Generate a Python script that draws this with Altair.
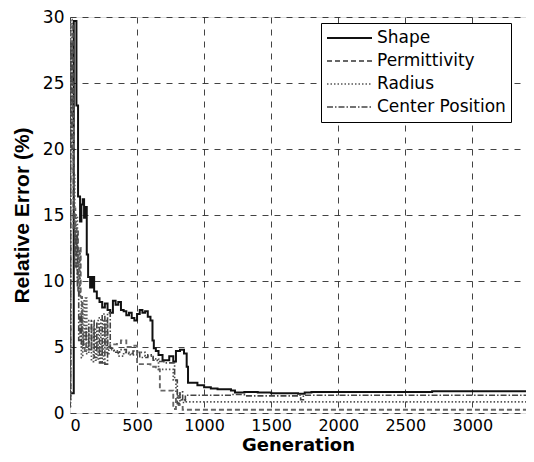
import altair as alt
import pandas as pd

series_names = ["Shape", "Permittivity", "Radius", "Center Position"]

shape_gen = [0, 28, 48, 60, 75, 85, 95, 105, 115, 125, 135, 150, 165, 180, 200, 220, 240, 260, 280, 300, 320,
             340, 360, 380, 400, 420, 440, 460, 480, 500, 520, 540, 560, 580, 600, 615, 625, 640, 660, 690, 740,
             770, 790, 820, 850, 870, 880, 950, 1000, 1050, 1100, 1200, 1230, 1300, 1400, 1500, 1700, 1750, 1800,
             2700, 3400]
shape_val = [1.5, 29.7, 23.3, 16.4, 14.5, 15.8, 16.2, 14.8, 15.6, 12.0, 10.3, 9.5, 10.3, 9.2, 8.7, 8.4, 8.0, 8.3,
             7.8, 7.6, 8.5, 8.2, 8.4, 7.8, 7.7, 7.4, 7.6, 7.2, 7.0, 7.5, 7.8, 7.6, 7.7, 7.3, 7.0, 5.5, 4.9, 4.7,
             4.4, 4.0, 4.3, 3.9, 4.7, 4.8, 4.5, 3.5, 2.3, 2.1, 1.95, 1.85, 1.8, 1.7, 1.55, 1.6, 1.55, 1.5, 1.45,
             1.55, 1.6, 1.65, 1.65]

perm_gen = [0, 3, 20, 30, 40, 50, 60, 70, 80, 90, 100, 110, 120, 140, 160, 180, 200, 220, 240, 260, 280, 300,
            350, 380, 420, 480, 500, 560, 600, 640, 670, 770, 790, 810, 840, 3400]
perm_val = [1.3, 29.5, 22.0, 15.5, 12.0, 14.0, 9.0, 12.5, 8.8, 6.0, 5.2, 4.7, 6.0, 5.0, 6.5, 5.5, 5.0, 4.4, 5.2,
            6.8, 5.0, 5.2, 5.3, 5.5, 5.0, 5.1, 3.7, 3.7, 3.5, 3.3, 1.7, 0.3, 1.3, 0.6, 0.25, 0.25]

rad_gen = [0, 4, 15, 25, 35, 45, 55, 65, 75, 85, 95, 105, 115, 125, 140, 160, 175, 190, 210, 230, 250, 270, 290,
           320, 360, 400, 450, 500, 560, 620, 660, 770, 790, 820, 860, 3400]
rad_val = [0.5, 29.8, 25.0, 18.0, 13.0, 15.0, 10.0, 12.5, 8.8, 4.2, 8.5, 5.5, 8.7, 4.5, 7.0, 3.9, 6.5, 4.0, 7.2,
           3.8, 7.0, 4.5, 4.8, 4.7, 4.3, 4.6, 4.4, 4.6, 4.3, 4.1, 3.3, 2.5, 1.5, 1.0, 0.85, 0.85]

cen_gen = [0, 5, 15, 25, 35, 45, 55, 65, 75, 85, 100, 120, 140, 160, 180, 200, 220, 240, 260, 280, 300, 330, 370,
           420, 470, 520, 580, 620, 650, 700, 780, 800, 820, 840, 860, 1200, 1300, 1700, 1720, 1740, 3400]
cen_val = [1.0, 28.0, 20.0, 14.0, 11.0, 13.5, 9.5, 5.5, 7.5, 5.0, 5.5, 6.5, 4.8, 7.0, 4.2, 6.8, 3.8, 7.5, 3.7,
           7.6, 4.9, 4.6, 4.8, 4.5, 4.7, 4.2, 4.4, 4.0, 3.9, 3.8, 2.5, 0.7, 1.6, 0.8, 1.35, 1.4, 1.3, 1.35, 1.0,
           1.35, 1.35]

rows = []
for name, gens, vals in [("Shape", shape_gen, shape_val), ("Permittivity", perm_gen, perm_val),
                         ("Radius", rad_gen, rad_val), ("Center Position", cen_gen, cen_val)]:
    for i, (g, v) in enumerate(zip(gens, vals)):
        rows.append({"series": name, "gen": g, "err": v, "order": i})
df = pd.DataFrame(rows)

font = "DejaVu Sans"
yfont = "Liberation Sans"

legend_common = dict(title=None, orient="none", legendX=251, legendY=6)

chart = alt.Chart(df).mark_line(interpolate="step-after", clip=True).encode(
    x=alt.X("gen:Q", scale=alt.Scale(domain=[0, 3400], nice=False),
            axis=alt.Axis(title="Generation", values=[0, 500, 1000, 1500, 2000, 2500, 3000], format="d",
                          labelFontSize=16, titleFontSize=18, titleFontWeight="bold",
                          labelFont=font, titleFont=font, labelColor="black", titleColor="black",
                          grid=True, gridDash=[6, 6], gridColor="#222", gridOpacity=0.85,
                          domain=False, ticks=False, labelPadding=4, titlePadding=3)),
    y=alt.Y("err:Q", scale=alt.Scale(domain=[0, 30], nice=False),
            axis=alt.Axis(title="Relative Error (%)", values=[0, 5, 10, 15, 20, 25, 30], format="d",
                          labelFontSize=17, titleFontSize=21, titleFontWeight="bold",
                          labelFont=font, titleFont=yfont, labelColor="black", titleColor="black",
                          grid=True, gridDash=[6, 6], gridColor="#222", gridOpacity=0.85,
                          domain=False, ticks=False, labelPadding=6, titlePadding=10)),
    color=alt.Color("series:N", scale=alt.Scale(domain=series_names,
                                                range=["#111111", "#666666", "#555555", "#444444"]),
                    legend=alt.Legend(symbolType="stroke", symbolSize=2025, symbolStrokeWidth=1.5,
                                      labelFontSize=17, labelFont=font, labelColor="black",
                                      strokeColor="black", fillColor="white", padding=5,
                                      clipHeight=20, rowPadding=3, cornerRadius=0, labelOffset=4,
                                      **legend_common)),
    strokeDash=alt.StrokeDash("series:N", scale=alt.Scale(domain=series_names,
                                                           range=[[1, 0], [5, 3], [1.5, 2], [6, 2, 1.5, 2]]),
                              legend=alt.Legend(**legend_common)),
    strokeWidth=alt.StrokeWidth("series:N", scale=alt.Scale(domain=series_names, range=[2, 1.6, 1.6, 1.6]),
                                legend=None),
    order="order:Q",
).properties(
    width=456, height=396,
    padding={"left": 62, "top": 9, "right": 0, "bottom": 41},
    autosize=alt.AutoSizeParams(type="none"),
).configure_view(stroke="black", strokeWidth=1.2).configure(background="white")

chart.save("out.html", embed_options={"renderer": "svg", "actions": False})
